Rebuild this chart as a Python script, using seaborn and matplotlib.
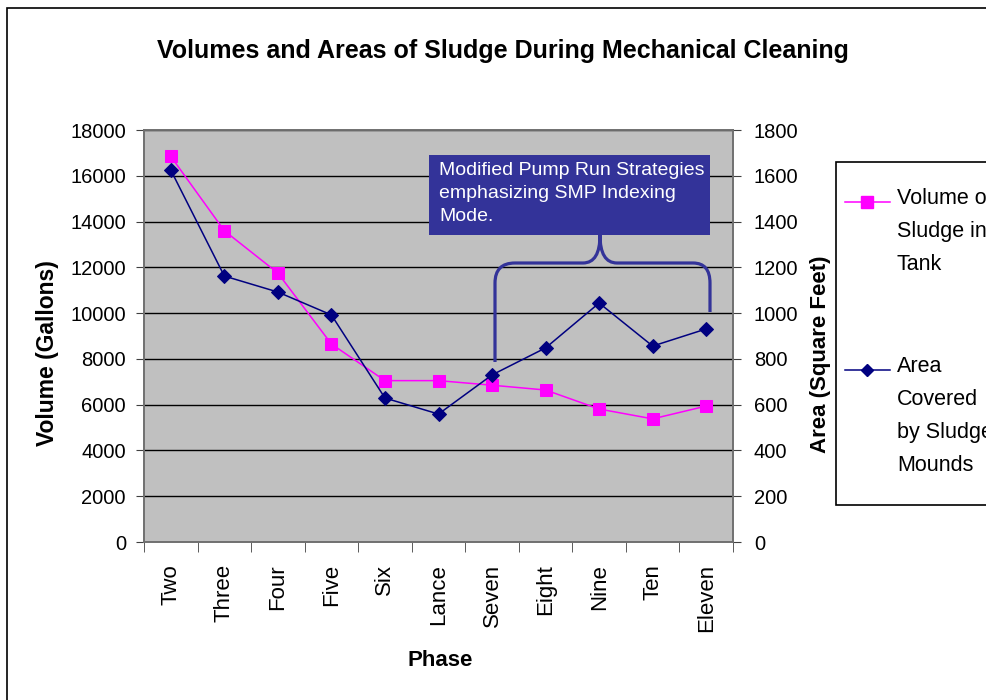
import numpy as np
import pandas as pd
import matplotlib
matplotlib.use("Agg")
import matplotlib.pyplot as plt
import seaborn as sns
from matplotlib.patches import Rectangle, PathPatch
from matplotlib.path import Path
from matplotlib.lines import Line2D

# data
phases = ["Two", "Three", "Four", "Five", "Six", "Lance", "Seven",
          "Eight", "Nine", "Ten", "Eleven"]
volume_gal = [16850, 13600, 11750, 8650, 7050, 7050, 6850, 6640, 5810, 5380, 5940]
area_sqft = [1625, 1162, 1092, 992, 629, 559, 730, 848, 1044, 856, 931]
vol_ticks = list(range(0, 18001, 2000))
area_ticks = list(range(0, 1801, 200))

pink = "#FF00FF"
navy = "#000080"
box_blue = "#333399"

plt.rcParams['font.family'] = ['Liberation Sans', 'DejaVu Sans']

W, H = 987, 700
fig = plt.figure(figsize=(W / 100, H / 100), dpi=100)


def fx(px):
    return px / W


def fy(py):
    return 1 - py / H


# plot area in pixel terms
left, right, top, bottom = 144, 733, 130, 542
ax = fig.add_axes([fx(left), fy(bottom), fx(right - left), (bottom - top) / H])
ax.set_facecolor("#C0C0C0")
ax2 = ax.twinx()

df = pd.DataFrame({"pos": np.arange(len(phases)), "phase": phases,
                   "volume": volume_gal, "area": area_sqft})

sns.lineplot(data=df, x="pos", y="volume", ax=ax, color=pink, marker="s",
             markersize=8, markeredgecolor=pink, linewidth=1.1, legend=False)
sns.lineplot(data=df, x="pos", y="area", ax=ax2, color=navy, marker="D",
             markersize=7, markeredgecolor=navy, linewidth=1.1, legend=False)

ax.set_xlim(-0.5, len(phases) - 0.5)
ax.set_ylim(0, 18000)
ax2.set_ylim(0, 1800)
ax.set_yticks(vol_ticks)
ax2.set_yticks(area_ticks)
ax.set_xticks(df["pos"])
ax.set_xticklabels(phases, rotation=90, fontsize=16)
ax.set_xticks(np.arange(-0.5, len(phases), 1.0), minor=True)
ax.tick_params(axis="x", which="major", length=0, pad=16)
ax.tick_params(axis="x", which="minor", length=7, direction="out", color="#404040")
ax.tick_params(axis="y", labelsize=14.5, length=6, pad=7, color="#404040")
ax2.tick_params(axis="y", labelsize=14.5, length=6, pad=9, color="#404040")
ax.set_xlabel("")
ax.set_ylabel("")
ax2.set_ylabel("")
ax.grid(axis="y", color="black", linewidth=1)
ax.set_axisbelow(True)
for a in (ax, ax2):
    for s in a.spines.values():
        s.set_color("#707070")
        s.set_linewidth(1.2)

# titles and axis labels
fig.text(fx(503), fy(51), "Volumes and Areas of Sludge During Mechanical Cleaning",
         ha="center", va="center", fontsize=18, fontweight="bold")
fig.text(fx(48), fy(353), "Volume (Gallons)", rotation=90, ha="center",
         va="center", fontsize=16.5, fontweight="bold")
fig.text(fx(821), fy(354), "Area (Square Feet)", rotation=90, ha="center",
         va="center", fontsize=16, fontweight="bold")
fig.text(fx(440), fy(660), "Phase", ha="center", va="center", fontsize=16,
         fontweight="bold")

# annotation box
fig.add_artist(Rectangle((fx(429), fy(235)), fx(710 - 429), (235 - 155) / H,
                         transform=fig.transFigure, facecolor=box_blue,
                         edgecolor="none", zorder=5))
fig.text(fx(439), fy(162), "Modified Pump Run Strategies\nemphasizing SMP Indexing\nMode.",
         ha="left", va="top", color="white", fontsize=14, linespacing=1.45, zorder=6)

# brace
pts = [(495, 362), (495, 283), (495, 263), (515, 263), (583, 263),
       (600, 263), (600, 235), (600, 263), (617, 263), (693, 263),
       (710, 263), (710, 283), (710, 312)]
codes = [Path.MOVETO, Path.LINETO, Path.CURVE3, Path.CURVE3, Path.LINETO,
         Path.CURVE3, Path.CURVE3, Path.CURVE3, Path.CURVE3, Path.LINETO,
         Path.CURVE3, Path.CURVE3, Path.LINETO]
brace = Path([(fx(x), fy(y)) for x, y in pts], codes)
fig.add_artist(PathPatch(brace, transform=fig.transFigure, facecolor="none",
                         edgecolor=box_blue, linewidth=2.3, zorder=5))

# legend box (runs off the right edge like the original)
fig.add_artist(Rectangle((fx(836), fy(505)), fx(1000 - 836), (505 - 162) / H,
                         transform=fig.transFigure, facecolor="white",
                         edgecolor="black", linewidth=1.2))
fig.add_artist(Line2D([fx(845), fx(890)], [fy(202), fy(202)], color=pink,
                      linewidth=1.1, transform=fig.transFigure))
fig.add_artist(Line2D([fx(867)], [fy(202)], color=pink, marker="s", markersize=8,
                      transform=fig.transFigure))
fig.add_artist(Line2D([fx(845), fx(890)], [fy(370), fy(370)], color=navy,
                      linewidth=1.1, transform=fig.transFigure))
fig.add_artist(Line2D([fx(867)], [fy(370)], color=navy, marker="D", markersize=6,
                      transform=fig.transFigure))
fig.text(fx(897), fy(188), "Volume of\nSludge in\nTank", ha="left", va="top",
         fontsize=15.5, linespacing=1.75)
fig.text(fx(897), fy(356), "Area\nCovered\nby Sludge\nMounds", ha="left", va="top",
         fontsize=15.5, linespacing=1.75)

# outer chart border
fig.add_artist(Rectangle((fx(7), fy(710)), fx(1000), (710 - 8) / H,
                         transform=fig.transFigure, facecolor="none",
                         edgecolor="black", linewidth=1.2))

fig.savefig("out.png", dpi=100)
